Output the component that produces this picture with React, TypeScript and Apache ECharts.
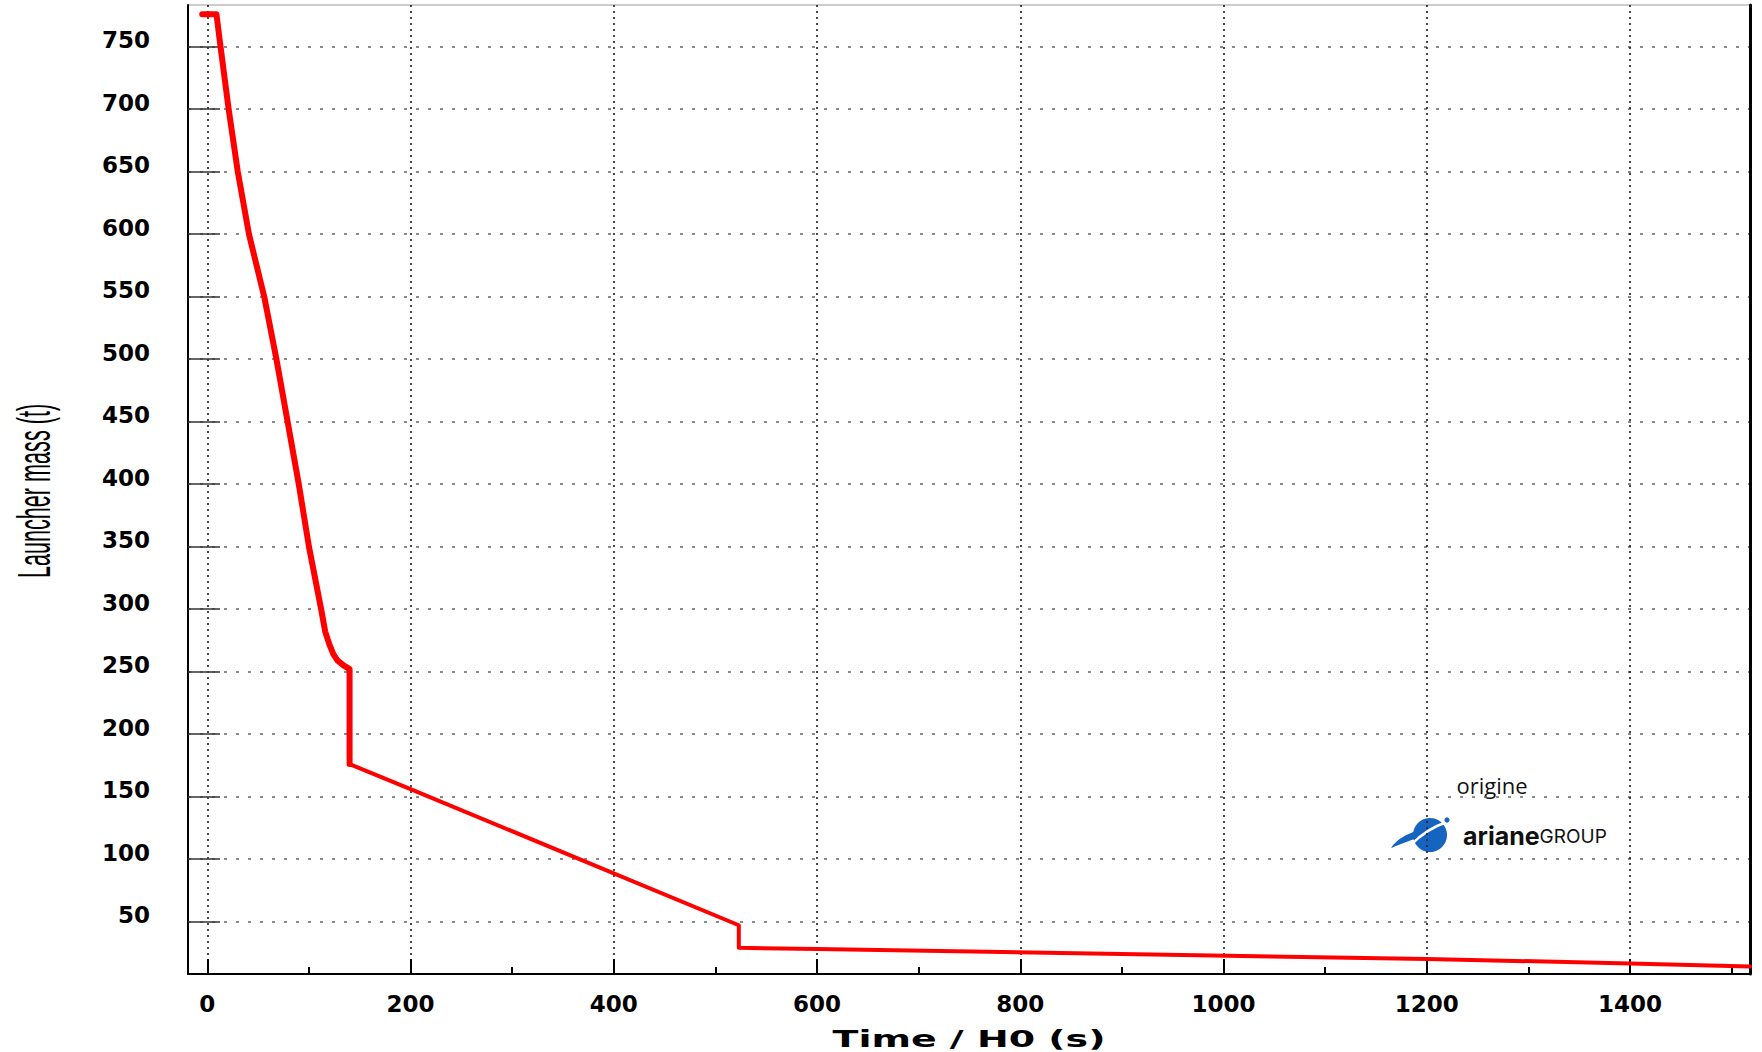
import React, { useEffect, useRef } from "react";
import * as echarts from "echarts";

// ---- data ----
const stage1Time = [-5, 9, 13, 21, 30, 41, 56, 68, 79, 90, 100, 112, 116, 120, 124, 128, 134, 140, 140];
const stage1Mass = [776, 776, 750, 700, 650, 600, 550, 500, 450, 400, 350, 300, 282, 272, 264, 259, 255, 252, 176];
const stage2Time = [140, 200, 523, 523, 600, 1200, 1400, 1518];
const stage2Mass = [176, 156, 47, 29, 28, 20, 16.5, 14];

const xTickValues = [0, 200, 400, 600, 800, 1000, 1200, 1400];
const xMinorTickValues = [100, 300, 500, 700, 900, 1100, 1300, 1500];
const yTickValues = [50, 100, 150, 200, 250, 300, 350, 400, 450, 500, 550, 600, 650, 700, 750];

const xTitle = "Time / H0 (s)";
const yTitle = "Launcher mass (t)";
const sourceText = "origine";

const X_MIN = -19;
const X_MAX = 1518;
const Y_MIN = 8;
const Y_MAX = 783.4;

echarts.graphic.registerShape(
  "arianeSwoosh",
  echarts.graphic.extendPath(
    "M 0 32 C 5 24 15 18 28 14 L 26 22 C 17 25 8 29 0 32 Z",
    {}
  )
);

export default function App() {
  const ref = useRef<HTMLDivElement>(null);

  useEffect(() => {
    document.body.style.margin = "0";
    if (!ref.current) return;
    const chart = echarts.init(ref.current, null, { renderer: "svg" });
    const labelFont = {
      fontFamily: "DejaVu Sans",
      fontWeight: "bold" as const,
      fontSize: 23,
      color: "#000",
      formatter: (v: number) => String(v),
    };
    chart.setOption({
      animation: false,
      backgroundColor: "#fff",
      grid: {
        left: 188,
        top: 5,
        right: 12,
        bottom: 78,
        show: true,
        borderColor: "#999",
        borderWidth: 1,
        backgroundColor: "transparent",
      },
      xAxis: [
        {
          type: "value",
          min: X_MIN,
          max: X_MAX,
          position: "bottom",
          axisLine: { show: true, onZero: false, lineStyle: { color: "#000", width: 2 } },
          axisTick: {
            show: true,
            inside: true,
            length: 15,
            customValues: xTickValues,
            lineStyle: { color: "#000", width: 2 },
          },
          axisLabel: { ...labelFont, margin: 18, customValues: xTickValues },
          splitLine: {
            show: true,
            lineStyle: { color: "#111", width: 1.5, type: [2, 4] },
          },
        },
        {
          type: "value",
          min: X_MIN,
          max: X_MAX,
          position: "bottom",
          axisLine: { show: false },
          axisTick: {
            show: true,
            inside: true,
            length: 7,
            customValues: xMinorTickValues,
            lineStyle: { color: "#000", width: 2 },
          },
          axisLabel: { show: false },
          splitLine: { show: false },
        },
      ],
      yAxis: [
        {
          type: "value",
          min: Y_MIN,
          max: Y_MAX,
          position: "left",
          axisLine: { show: true, onZero: false, lineStyle: { color: "#000", width: 2 } },
          axisTick: {
            show: true,
            inside: true,
            length: 32,
            customValues: yTickValues,
            lineStyle: { color: "#333", width: 1.5 },
          },
          axisLabel: {
            ...labelFont,
            margin: 38,
            customValues: yTickValues,
            verticalAlign: "bottom",
            lineHeight: 13,
          },
          splitLine: {
            show: true,
            lineStyle: { color: "#666", width: 1.5, type: [3, 9] },
          },
        },
        {
          type: "value",
          min: Y_MIN,
          max: Y_MAX,
          position: "right",
          axisLine: { show: true, onZero: false, lineStyle: { color: "#000", width: 3 } },
          axisTick: { show: false },
          axisLabel: { show: false },
          splitLine: { show: false },
        },
      ],
      series: [
        {
          type: "line",
          xAxisIndex: 0,
          yAxisIndex: 0,
          data: stage1Time.map((t, i) => [t, stage1Mass[i]]),
          showSymbol: false,
          lineStyle: { color: "#ff0000", width: 6, join: "round", cap: "round" },
          z: 5,
        },
        {
          type: "line",
          xAxisIndex: 0,
          yAxisIndex: 0,
          data: stage2Time.map((t, i) => [t, stage2Mass[i]]),
          showSymbol: false,
          lineStyle: { color: "#ff0000", width: 4, join: "round", cap: "round" },
          z: 5,
        },
      ],
      graphic: [
        {
          type: "text",
          x: 969,
          y: 1039,
          scaleX: 1.65,
          style: {
            text: xTitle,
            fontFamily: "DejaVu Sans",
            fontWeight: "bold",
            fontSize: 23,
            fill: "#000",
            align: "center",
            verticalAlign: "middle",
          },
        },
        {
          type: "text",
          x: 34,
          y: 491,
          rotation: Math.PI / 2,
          scaleX: 0.47,
          style: {
            text: yTitle,
            fontFamily: "Liberation Sans",
            fontSize: 46,
            fill: "#000",
            align: "center",
            verticalAlign: "middle",
          },
        },
        {
          type: "text",
          x: 1492,
          y: 785,
          style: {
            text: sourceText,
            fontFamily: "Open Sans",
            fontSize: 22,
            fill: "#111",
            align: "center",
            verticalAlign: "middle",
          },
        },
        {
          type: "circle",
          shape: { cx: 1430, cy: 835, r: 17 },
          style: { fill: "#1565c0" },
        },
        {
          type: "bezierCurve",
          shape: { x1: 1411, y1: 845, cpx1: 1426, cpy1: 829, x2: 1447, y2: 822 },
          style: { stroke: "#fff", lineWidth: 2.5, fill: null },
        },
        {
          type: "arianeSwoosh",
          x: 1391,
          y: 816,
          style: { fill: "#1565c0" },
        },
        {
          type: "circle",
          shape: { cx: 1447, cy: 820, r: 2.6 },
          style: { fill: "#1565c0" },
        },
        {
          type: "text",
          x: 1463,
          y: 836,
          style: {
            text: "{a|ariane}{b|GROUP}",
            align: "left",
            verticalAlign: "middle",
            rich: {
              a: { fontFamily: "Inter", fontWeight: "bold", fontSize: 25, fill: "#111", color: "#111" },
              b: { fontFamily: "Inter", fontSize: 19, fill: "#111", color: "#111" },
            },
          },
        },
      ],
    });
    return () => chart.dispose();
  }, []);

  return <div ref={ref} style={{ width: 1762, height: 1052 }} />;
}
